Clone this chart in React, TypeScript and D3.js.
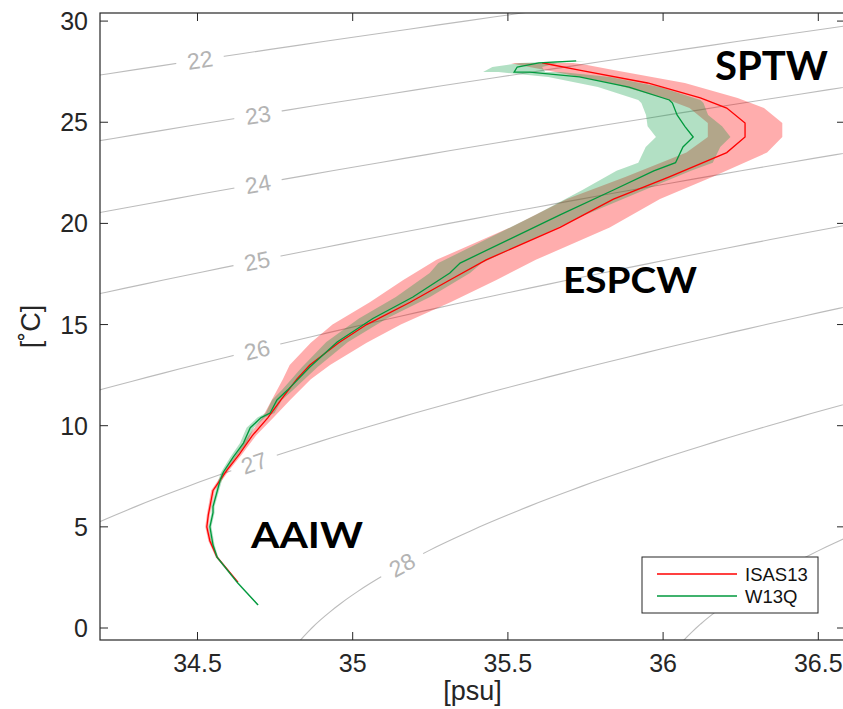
import * as d3 from "d3";
import React from "react";

// ISAS13 climatology: temperature levels, mean salinity, salinity spread
const isasT = [2.27, 3.5, 4.3, 5.0, 5.6, 6.8, 7.8, 8.6, 9.5, 10.4, 11.3, 12.3, 13.0, 14.1, 15.0, 16.1, 17.2, 18.2, 19.8, 21.2, 22.3, 23.5, 24.27, 24.96, 25.7, 26.2, 26.94, 27.58, 27.83, 27.93];
const isasS = [34.63, 34.563, 34.54, 34.53, 34.535, 34.55, 34.595, 34.635, 34.676, 34.727, 34.77, 34.82, 34.862, 34.955, 35.045, 35.185, 35.313, 35.43, 35.668, 35.84, 36.02, 36.205, 36.264, 36.264, 36.205, 36.12, 35.95, 35.73, 35.645, 35.61];
const isasSd = [0.003, 0.004, 0.005, 0.005, 0.005, 0.006, 0.007, 0.009, 0.012, 0.018, 0.03, 0.045, 0.065, 0.09, 0.11, 0.13, 0.15, 0.16, 0.16, 0.15, 0.14, 0.13, 0.12, 0.12, 0.12, 0.12, 0.12, 0.11, 0.11, 0.1];

// W13Q
const w13qT = [1.14, 2.22, 3.5, 4.1, 5.0, 5.7, 6.0, 7.3, 7.7, 8.45, 9.14, 9.9, 10.4, 10.63, 11.27, 11.76, 12.9, 14.14, 15.3, 16.36, 17.55, 18.04, 20.42, 21.65, 22.6, 23.0, 23.78, 24.27, 24.8, 25.36, 25.95, 26.1, 26.74, 27.24, 27.48, 27.48, 27.73, 27.93, 28.03];
const w13qS = [34.695, 34.63, 34.563, 34.55, 34.54, 34.55, 34.55, 34.573, 34.583, 34.615, 34.648, 34.67, 34.705, 34.734, 34.756, 34.79, 34.862, 34.95, 35.065, 35.194, 35.313, 35.346, 35.668, 35.84, 35.97, 36.04, 36.064, 36.097, 36.07, 36.045, 36.03, 36.02, 35.89, 35.73, 35.57, 35.52, 35.53, 35.6, 35.72];
const w13qSd = [0.003, 0.004, 0.004, 0.005, 0.005, 0.005, 0.005, 0.006, 0.007, 0.009, 0.011, 0.012, 0.012, 0.014, 0.016, 0.018, 0.025, 0.035, 0.045, 0.055, 0.065, 0.07, 0.08, 0.1, 0.12, 0.12, 0.12, 0.12, 0.12, 0.1, 0.1, 0.1, 0.1, 0.1, 0.1, 0.1, 0.08, 0.06, 0.03];

const sigmaLevels = [22, 23, 24, 25, 26, 27, 28, 29];
const xTicks = [34.5, 35, 35.5, 36, 36.5];
const yTicks = [0, 5, 10, 15, 20, 25, 30];
const waterMasses = ["SPTW", "ESPCW", "AAIW"];
const legendNames = ["ISAS13", "W13Q"];

const W = 843;
const H = 709;
const left = 100, right = 845, top = 13, bottom = 640;
const labelPx: Record<number, number> = { 22: 200, 23: 258, 24: 258, 25: 257, 26: 257, 27: 254, 28: 402, 29: 735 };

const RED = "#ff0000";
const GREEN = "#00993d";
const font = "'Liberation Sans', Arial, Helvetica, sans-serif";
const boldFont = "Lato, 'Open Sans', 'Liberation Sans', Arial, sans-serif";
const axisCol = "#262626";

// UNESCO EOS-80 density anomaly at surface pressure
function sigma0(S: number, T: number) {
  const rw = 999.842594 + 6.793952e-2 * T - 9.09529e-3 * T * T + 1.001685e-4 * T ** 3 - 1.120083e-6 * T ** 4 + 6.536332e-9 * T ** 5;
  const A = 8.24493e-1 - 4.0899e-3 * T + 7.6438e-5 * T * T - 8.2467e-7 * T ** 3 + 5.3875e-9 * T ** 4;
  const B = -5.72466e-3 + 1.0227e-4 * T - 1.6546e-6 * T * T;
  return rw + A * S + B * Math.pow(S, 1.5) + 4.8314e-4 * S * S - 1000;
}

function salinityOn(level: number, T: number) {
  let lo = 25, hi = 42;
  for (let i = 0; i < 50; i++) {
    const m = (lo + hi) / 2;
    if (sigma0(m, T) < level) lo = m; else hi = m;
  }
  return (lo + hi) / 2;
}

function tempOn(level: number, S: number) {
  let lo = -3, hi = 35;
  for (let i = 0; i < 50; i++) {
    const m = (lo + hi) / 2;
    if (sigma0(S, m) > level) lo = m; else hi = m;
  }
  return (lo + hi) / 2;
}

export default function App() {
  const x = d3.scaleLinear().domain([34.1859, 36.586]).range([left, right]);
  const y = d3.scaleLinear().domain([-0.593, 30.4]).range([bottom, top]);

  const tGrid = d3.range(-2, 32.01, 0.2);
  const line = d3.line<[number, number]>().x((d) => x(d[0])).y((d) => y(d[1]));

  const isos = sigmaLevels.map((L) => {
    const pts: [number, number][] = tGrid.map((t) => [salinityOn(L, t), t]);
    const px = labelPx[L];
    const t0 = tempOn(L, x.invert(px));
    const ya = y(tempOn(L, x.invert(px - 6)));
    const yb = y(tempOn(L, x.invert(px + 6)));
    const ang = (Math.atan2(yb - ya, 12) * 180) / Math.PI;
    return { L, d: line(pts) as string, lx: px, ly: y(t0), ang };
  });

  const mkArea = (T: number[], S: number[], sd: number[]) =>
    d3
      .area<number>()
      .x0((i) => x(S[i] - sd[i]))
      .x1((i) => x(S[i] + sd[i]))
      .y((i) => y(T[i]))(d3.range(T.length)) as string;
  const mkLine = (T: number[], S: number[]) =>
    d3
      .line<number>()
      .x((i) => x(S[i]))
      .y((i) => y(T[i]))(d3.range(T.length)) as string;

  return (
    <svg width={W} height={H} style={{ position: "absolute", left: 0, top: 0, background: "#fff" }} fontFamily={font}>
      <defs>
        <clipPath id="plot">
          <rect x={left} y={top} width={right - left} height={bottom - top} />
        </clipPath>
      </defs>
      <rect x={0} y={0} width={W} height={H} fill="#fff" />
      <g clipPath="url(#plot)">
        {isos.map((c) => (
          <path key={c.L} d={c.d} fill="none" stroke="#bcbcbc" strokeWidth={1.1} />
        ))}
        {isos.map((c) => (
          <g key={"l" + c.L} transform={`translate(${c.lx},${c.ly}) rotate(${c.ang})`}>
            <rect x={-24} y={-12} width={48} height={24} fill="#fff" />
            <text textAnchor="middle" dy="0.36em" fontSize={23} fill="#b4b4b4">
              {c.L}
            </text>
          </g>
        ))}
        <path d={mkArea(isasT, isasS, isasSd)} fill={RED} fillOpacity={0.32} />
        <path d={mkArea(w13qT, w13qS, w13qSd)} fill={GREEN} fillOpacity={0.3} />
        <path d={mkLine(isasT, isasS)} fill="none" stroke={RED} strokeWidth={1.3} />
        <path d={mkLine(w13qT, w13qS)} fill="none" stroke={GREEN} strokeWidth={1.3} />
      </g>

      {/* axes box */}
      <rect x={left} y={top} width={right - left} height={bottom - top} fill="none" stroke={axisCol} strokeWidth={1.2} />
      {xTicks.map((t) => (
        <g key={"x" + t}>
          <line x1={x(t)} x2={x(t)} y1={bottom} y2={bottom - 8} stroke={axisCol} />
          <line x1={x(t)} x2={x(t)} y1={top} y2={top + 8} stroke={axisCol} />
          <text x={x(t)} y={672} textAnchor="middle" fontSize={25} fill={axisCol}>
            {t}
          </text>
        </g>
      ))}
      {yTicks.map((t) => (
        <g key={"y" + t}>
          <line x1={left} x2={left + 8} y1={y(t)} y2={y(t)} stroke={axisCol} />
          <line x1={right} x2={right - 8} y1={y(t)} y2={y(t)} stroke={axisCol} />
          <text x={88} y={y(t)} dy="0.36em" textAnchor="end" fontSize={25} fill={axisCol}>
            {t}
          </text>
        </g>
      ))}
      <text x={(left + right) / 2} y={700} textAnchor="middle" fontSize={27} fill={axisCol}>
        [psu]
      </text>
      <text transform={`translate(40,${(top + bottom) / 2}) rotate(-90)`} textAnchor="middle" fontSize={27} fill={axisCol}>
        [˚C]
      </text>

      {/* water mass labels */}
      <g fontFamily={boldFont} fontWeight="bold" fill="#000">
        <text x={715} y={80} fontSize={41} textLength={113} lengthAdjust="spacingAndGlyphs">
          {waterMasses[0]}
        </text>
        <text x={563} y={293} fontSize={37} textLength={134} lengthAdjust="spacingAndGlyphs">
          {waterMasses[1]}
        </text>
        <text x={251} y={548} fontSize={37} textLength={112} lengthAdjust="spacingAndGlyphs">
          {waterMasses[2]}
        </text>
      </g>

      {/* legend */}
      <g>
        <rect x={642} y={557} width={176} height={56} fill="#fff" stroke={axisCol} strokeWidth={1} />
        {legendNames.map((n, i) => (
          <g key={n}>
            <line x1={657} x2={737} y1={574 + i * 22} y2={574 + i * 22} stroke={i === 0 ? RED : GREEN} strokeWidth={1.3} />
            <text x={745} y={574 + i * 22} dy="0.36em" fontSize={18.5} fill="#111">
              {n}
            </text>
          </g>
        ))}
      </g>
    </svg>
  );
}
